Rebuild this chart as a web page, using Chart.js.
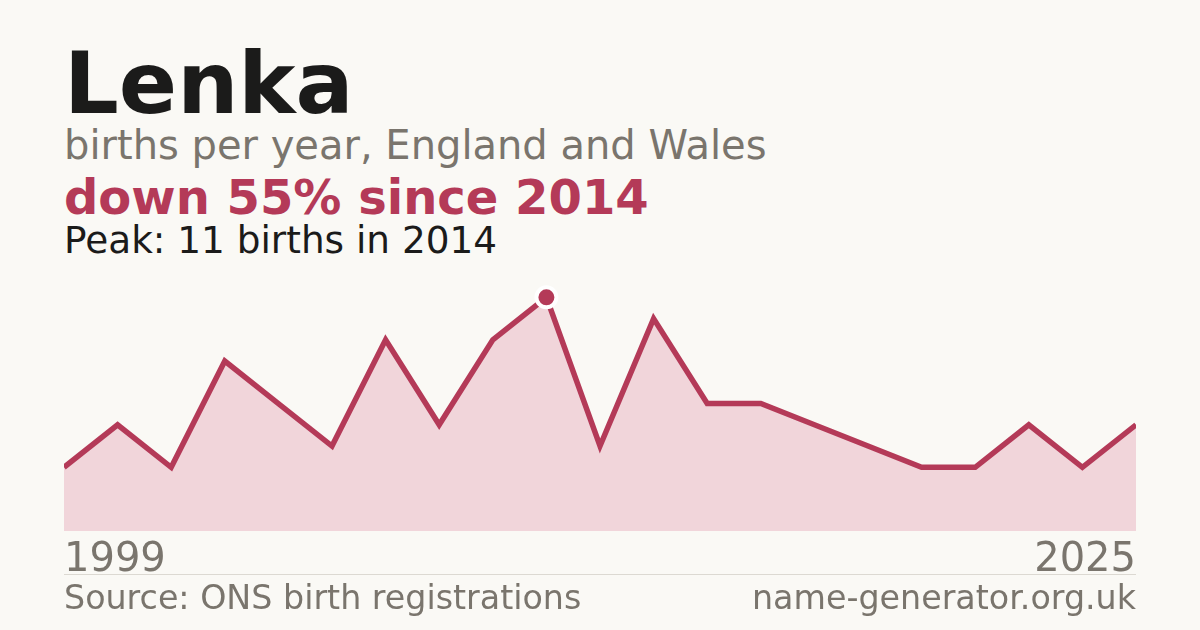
<!DOCTYPE html>
<html>
<head>
<meta charset="utf-8">
<script src="https://cdn.jsdelivr.net/npm/chart.js@4/dist/chart.umd.min.js"></script>
<style>
  html, body { margin: 0; padding: 0; }
  body { width: 1200px; height: 630px; background: #faf9f5; position: relative; overflow: hidden; font-family: "DejaVu Sans", sans-serif; }
  .t { position: absolute; left: 64px; line-height: 1; white-space: nowrap; }
  #title { font-size: 86px; font-weight: bold; color: #1b1b1a; top: 40px; }
  #sub { font-size: 40px; color: #7a756d; top: 125px; }
  #change { font-size: 48px; font-weight: bold; color: #b43a58; top: 173px; }
  #peak { font-size: 37.4px; color: #1b1b1a; top: 222px; }
  #rule { position: absolute; left: 64px; width: 1072px; top: 574px; height: 1px; background: #dcd9d2; }
  #src { font-size: 33.3px; color: #7a756d; top: 581px; }
  #site { font-size: 33.3px; color: #7a756d; top: 581px; left: auto; right: 64px; }
  #wrap { position: absolute; left: 64px; top: 274px; width: 1072px; height: 311px; }
</style>
</head>
<body>
<div class="t" id="title">Lenka</div>
<div class="t" id="sub">births per year, England and Wales</div>
<div class="t" id="change">down 55% since 2014</div>
<div class="t" id="peak">Peak: 11 births in 2014</div>
<div id="wrap"><canvas id="c"></canvas></div>
<div id="rule"></div>
<div class="t" id="src">Source: ONS birth registrations</div>
<div class="t" id="site">name-generator.org.uk</div>
<script>
const years = [1999, 2002, 2004, 2006, 2007, 2009, 2010, 2011, 2013, 2014, 2015, 2016, 2017, 2018, 2019, 2020, 2021, 2022, 2023, 2024, 2025];
const births = [3, 5, 3, 8, 6, 4, 9, 5, 9, 11, 4, 10, 6, 6, 5, 4, 3, 3, 5, 3, 5];
const peakYear = 2014;
const yMin = 0;
const yMax = 12.1;

const peakIndex = years.indexOf(peakYear);
const lineColor = '#b43a58';

new Chart(document.getElementById('c'), {
  type: 'line',
  data: {
    labels: years,
    datasets: [{
      data: births,
      borderColor: lineColor,
      borderWidth: 5.5,
      backgroundColor: '#f1d5da',
      fill: 'origin',
      tension: 0,
      clip: 0,
      pointRadius: births.map((v, i) => i === peakIndex ? 10 : 0),
      pointBackgroundColor: lineColor,
      pointBorderColor: '#ffffff',
      pointBorderWidth: 4,
      pointHoverRadius: 0
    }]
  },
  options: {
    responsive: true,
    maintainAspectRatio: false,
    animation: false,
    layout: { padding: 0, autoPadding: false },
    plugins: { legend: { display: false }, tooltip: { enabled: false } },
    scales: {
      x: {
        offset: false,
        grid: { display: true, drawOnChartArea: false, drawTicks: true, tickLength: 6, color: 'rgba(0,0,0,0)' },
        border: { display: false },
        ticks: {
          autoSkip: false,
          maxRotation: 0,
          align: 'inner',
          padding: 0,
          color: '#7a756d',
          font: { family: 'DejaVu Sans', size: 40 },
          callback: function (v, i) { return (i === 0 || i === years.length - 1) ? years[i] : ''; }
        }
      },
      y: {
        display: false,
        min: yMin,
        max: yMax
      }
    }
  }
});
</script>
</body>
</html>
